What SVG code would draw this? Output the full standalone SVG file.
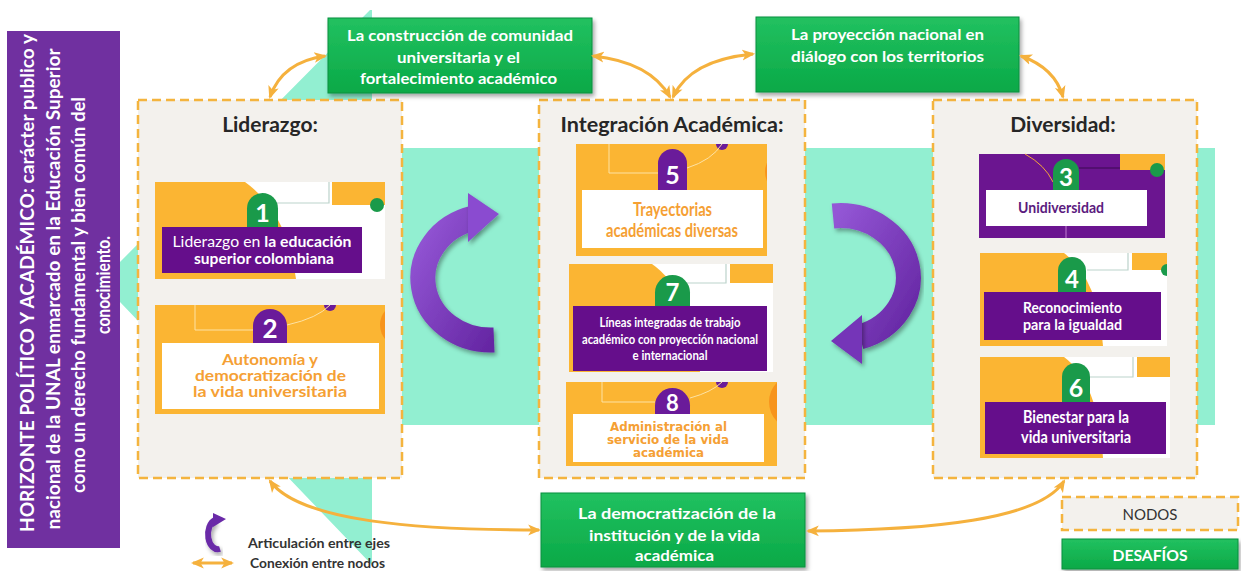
<svg xmlns="http://www.w3.org/2000/svg" width="1241" height="571" viewBox="0 0 1241 571">
<defs>
<style>
.panel{fill:#f3f1ed;stroke:#f4b43e;stroke-width:2.5;stroke-dasharray:9 5}
.gbox{fill:url(#gg);stroke:#0a8f3e;stroke-width:1;filter:url(#sh)}
.gt{font-family:Lato,"Open Sans",sans-serif;font-weight:700;fill:#fff;text-anchor:middle;font-size:16px}
.title{font-family:Lato,"Open Sans",sans-serif;font-weight:700;font-size:21px;fill:#262626;text-anchor:middle}
.or{fill:#fbb533}
.pl{fill:#650e8b}
.num{font-family:Lato,"Open Sans",sans-serif;font-weight:700;fill:#fff;text-anchor:middle}
.ot{font-family:Lato,"Open Sans",sans-serif;font-weight:700;fill:#f5a034;text-anchor:middle}
.lt{font-family:Lato,"Open Sans",sans-serif;font-weight:700;fill:#fff;text-anchor:middle}
.conn{fill:none;stroke:#f5b13d;stroke-width:3;marker-start:url(#oa);marker-end:url(#oa)}
.deco{fill:none;stroke:#fde2a4;stroke-width:1}
.outl{fill:none;stroke:#bcd3cb;stroke-width:1.2}
.gtab{fill:#1a9a4a}
.ptab{fill:#6a1b9a}
.parc{fill:none;stroke:url(#pg);stroke-width:25;filter:url(#sh)}
.leg{font-family:Lato,"Open Sans",sans-serif;font-weight:700;font-size:13px;fill:#333}
.bar{font-family:Lato,"Open Sans",sans-serif;font-weight:700;font-size:18px;fill:#fff;text-anchor:middle}
</style>
<linearGradient id="gg" x1="0" y1="0" x2="0" y2="1"><stop offset="0" stop-color="#22c160"/><stop offset="1" stop-color="#0aa947"/></linearGradient>
<linearGradient id="pg" x1="0" y1="0" x2="1" y2="1"><stop offset="0" stop-color="#9457d6"/><stop offset="1" stop-color="#6526a3"/></linearGradient>
<filter id="sh" x="-20%" y="-20%" width="140%" height="140%"><feDropShadow dx="2" dy="3" stdDeviation="2" flood-color="#000" flood-opacity="0.35"/></filter>
<marker id="oa" viewBox="0 0 12 12" refX="10" refY="6" markerWidth="13" markerHeight="13" markerUnits="userSpaceOnUse" orient="auto-start-reverse"><path d="M0,1 L12,6 L0,11 L3,6 Z" fill="#f5b13d"/></marker>
<clipPath id="c2"><rect x="155" y="305" width="230" height="109"/></clipPath>
<clipPath id="c5"><rect x="576" y="144" width="191" height="112"/></clipPath>
<clipPath id="c8"><rect x="566" y="382" width="211" height="84"/></clipPath>
</defs>
<rect width="1241" height="571" fill="#fff"/>
<polygon points="370,10 120,262 120,302 372,565 372,425 1215,425 1215,148 372,148 372,10" fill="#92efd1"/>

<g id="horizonte">
<rect x="7" y="31" width="113" height="517" fill="#7030a0"/>
<text class="bar" transform="translate(34,283) rotate(-90)" textLength="498" lengthAdjust="spacingAndGlyphs">HORIZONTE POLÍTICO Y ACADÉMICO: carácter publico y</text>
<text class="bar" transform="translate(60,289) rotate(-90)" textLength="481" lengthAdjust="spacingAndGlyphs">nacional de la UNAL enmarcado en la Educación Superior</text>
<text class="bar" transform="translate(85,295) rotate(-90)" textLength="396" lengthAdjust="spacingAndGlyphs">como un derecho fundamental y bien común del</text>
<text class="bar" transform="translate(110,285) rotate(-90)" textLength="98" lengthAdjust="spacingAndGlyphs">conocimiento.</text>
</g>

<g id="panel-liderazgo">
<rect class="panel" x="138" y="100" width="264" height="378"/>
<text class="title" x="270" y="132">Liderazgo:</text>
</g>
<g id="panel-integracion">
<rect class="panel" x="539" y="100" width="266" height="378"/>
<text class="title" x="672" y="132" textLength="223" lengthAdjust="spacingAndGlyphs">Integración Académica:</text>
</g>
<g id="panel-diversidad">
<rect class="panel" x="933" y="100" width="264" height="378"/>
<text class="title" x="1063" y="132">Diversidad:</text>
</g>

<g id="node-1">
<rect x="155" y="182" width="230" height="97" fill="#fff"/>
<path class="or" d="M155,182 H245 Q287,212 296,279 H155 Z"/>
<path class="outl" d="M252,203 H329 V182"/>
<rect class="or" x="332" y="182" width="53" height="23"/>
<circle cx="377" cy="205" r="7" fill="#1a9a4a"/>
<path class="gtab" d="M247,230 V208.5 a15.5,15.5 0 0 1 31,0 V230 Z"/>
<text class="num" x="262.5" y="222" font-size="25">1</text>
<rect class="pl" x="162" y="227" width="200" height="46"/>
<text class="lt" x="262" y="247" font-size="15.5" textLength="179" lengthAdjust="spacingAndGlyphs"><tspan font-weight="400">Liderazgo en </tspan>la educación</text>
<text class="lt" x="264" y="264" font-size="15.5" textLength="140" lengthAdjust="spacingAndGlyphs">superior colombiana</text>
</g>

<g id="node-2">
<rect class="or" x="155" y="305" width="230" height="109"/>
<g clip-path="url(#c2)"><circle cx="402" cy="325" r="22" fill="#f7941d"/><circle cx="330" cy="305" r="6" fill="#6a1b9a"/></g>
<path class="deco" d="M195,305 V330 H253 M287,325 Q318,318 330,305"/>
<path class="ptab" d="M253,343 V326 a17,17 0 0 1 34,0 V343 Z"/>
<text class="num" x="270" y="338" font-size="26">2</text>
<rect x="162" y="343" width="217" height="66" fill="#fff"/>
<text class="ot" x="270" y="365" font-size="15.5" textLength="96" lengthAdjust="spacingAndGlyphs">Autonomía y</text>
<text class="ot" x="270.5" y="381" font-size="15.5" textLength="151" lengthAdjust="spacingAndGlyphs">democratización de</text>
<text class="ot" x="270" y="397" font-size="15.5" textLength="154" lengthAdjust="spacingAndGlyphs">la vida universitaria</text>
</g>

<g id="node-5">
<rect class="or" x="576" y="144" width="191" height="112"/>
<g clip-path="url(#c5)"><circle cx="787" cy="172" r="22" fill="#f7941d"/><circle cx="722" cy="144" r="6" fill="#6a1b9a"/></g>
<path class="deco" d="M609,144 V173 H658 M687,168 Q712,160 722,144"/>
<path class="ptab" d="M658,190 V163.5 a14.5,14.5 0 0 1 29,0 V190 Z"/>
<text class="num" x="672.5" y="184" font-size="25">5</text>
<rect x="582" y="190" width="181" height="58" fill="#fff"/>
<text class="ot" x="672.5" y="216" font-size="18" font-weight="400" textLength="79" lengthAdjust="spacingAndGlyphs">Trayectorias</text>
<text class="ot" x="672" y="237" font-size="18" font-weight="400" textLength="132" lengthAdjust="spacingAndGlyphs">académicas diversas</text>
</g>

<g id="node-7">
<rect x="569" y="264" width="204" height="108" fill="#fff"/>
<path class="or" d="M569,264 H652 Q690,290 700,372 H569 Z"/>
<path class="outl" d="M660,283 H726 V264"/>
<rect class="or" x="730" y="264" width="43" height="19"/>
<path class="gtab" d="M655,306 V292.5 a17.5,17.5 0 0 1 35,0 V306 Z"/>
<text class="num" x="672.5" y="301" font-size="24">7</text>
<rect class="pl" x="573" y="306" width="194" height="65"/>
<text class="lt" x="670" y="327" font-size="13.5" font-weight="400" textLength="141" lengthAdjust="spacingAndGlyphs">Líneas integradas de trabajo</text>
<text class="lt" x="670" y="344" font-size="13.5" font-weight="400" textLength="176" lengthAdjust="spacingAndGlyphs">académico con proyección nacional</text>
<text class="lt" x="670" y="360" font-size="13.5" font-weight="400" textLength="75" lengthAdjust="spacingAndGlyphs">e internacional</text>
</g>

<g id="node-8">
<rect class="or" x="566" y="382" width="211" height="84"/>
<g clip-path="url(#c8)"><circle cx="797" cy="402" r="28" fill="#f7941d"/><circle cx="722" cy="382" r="6" fill="#6a1b9a"/></g>
<path class="deco" d="M602,382 V402 H655 M690,398 Q712,392 722,382"/>
<path class="ptab" d="M655,414 V405.5 a17.5,17.5 0 0 1 35,0 V414 Z"/>
<text class="num" x="672.5" y="411" font-size="22">8</text>
<rect x="573" y="414" width="191" height="48" fill="#fff"/>
<g font-family="'DejaVu Sans',Verdana,sans-serif" font-weight="700" font-size="12.5" fill="#f5a034" text-anchor="middle">
<text x="668.5" y="431" textLength="117" lengthAdjust="spacingAndGlyphs">Administración al</text>
<text x="668" y="444" textLength="122" lengthAdjust="spacingAndGlyphs">servicio de la vida</text>
<text x="668.5" y="457" textLength="71" lengthAdjust="spacingAndGlyphs">académica</text>
</g>
</g>

<g id="node-3">
<rect x="979" y="154" width="186" height="84" fill="#6b1590"/>
<rect class="or" x="1120" y="154" width="45" height="16"/>
<path d="M1079,168 H1120" stroke="#3a0b50" stroke-width="1" fill="none"/>
<path d="M1025,154 Q1045,165 1053,182" stroke="#f4a63a" stroke-width="1" fill="none"/>
<circle cx="1157" cy="170" r="7" fill="#1a9a4a"/>
<path class="gtab" d="M1053,190 V172 a13,13 0 0 1 26,0 V190 Z"/>
<text class="num" x="1066" y="186" font-size="24">3</text>
<rect x="986" y="190" width="161" height="36" fill="#fff"/>
<path d="M1066,226 V238" stroke="#c07ad0" stroke-width="1"/>
<text x="1061" y="213" font-family="Lato,sans-serif" font-weight="700" font-size="15" fill="#5b1a7e" text-anchor="middle" textLength="86" lengthAdjust="spacingAndGlyphs">Unidiversidad</text>
</g>

<g id="node-4">
<rect x="980" y="253" width="187" height="93" fill="#fff"/>
<path class="or" d="M980,253 H1064 Q1098,278 1103,346 H980 Z"/>
<path class="outl" d="M1087,270 H1128 V253"/>
<rect class="or" x="1132" y="253" width="35" height="17"/>
<path d="M1167,264 a6,6 0 0 0 0,12 Z" fill="#1a9a4a"/>
<path class="gtab" d="M1058,292 V271 a14,14 0 0 1 28,0 V292 Z"/>
<text class="num" x="1072" y="288" font-size="24">4</text>
<rect class="pl" x="984" y="292" width="177" height="48"/>
<text class="lt" x="1072.5" y="313" font-size="15.5" textLength="99" lengthAdjust="spacingAndGlyphs">Reconocimiento</text>
<text class="lt" x="1072.5" y="330" font-size="15.5" textLength="99" lengthAdjust="spacingAndGlyphs">para la igualdad</text>
</g>

<g id="node-6">
<rect x="980" y="357" width="190" height="101" fill="#fff"/>
<path class="or" d="M980,357 H1064 Q1098,382 1103,458 H980 Z"/>
<path class="outl" d="M1090,377 H1133 V357"/>
<rect class="or" x="1137" y="357" width="33" height="20"/>
<path class="gtab" d="M1062,402 V377 a14,14 0 0 1 28,0 V402 Z"/>
<text class="num" x="1076" y="397" font-size="25">6</text>
<rect class="pl" x="985" y="402" width="181" height="52"/>
<text class="lt" x="1076" y="423" font-size="16.5" textLength="106" lengthAdjust="spacingAndGlyphs">Bienestar para la</text>
<text class="lt" x="1076" y="443" font-size="16.5" textLength="110" lengthAdjust="spacingAndGlyphs">vida universitaria</text>
</g>

<g id="desafio-construccion">
<rect class="gbox" x="328" y="18" width="264" height="75"/>
<text class="gt" x="460" y="41" textLength="226" lengthAdjust="spacingAndGlyphs">La construcción de comunidad</text>
<text class="gt" x="458.5" y="63" textLength="123" lengthAdjust="spacingAndGlyphs">universitaria y el</text>
<text class="gt" x="458.5" y="84" textLength="197" lengthAdjust="spacingAndGlyphs">fortalecimiento académico</text>
</g>
<g id="desafio-proyeccion">
<rect class="gbox" x="756" y="17" width="263" height="75"/>
<text class="gt" x="887.5" y="40" textLength="193" lengthAdjust="spacingAndGlyphs">La proyección nacional en</text>
<text class="gt" x="887.5" y="62" textLength="193" lengthAdjust="spacingAndGlyphs">diálogo con los territorios</text>
</g>
<g id="desafio-democratizacion">
<rect class="gbox" x="541" y="493" width="264" height="74"/>
<text class="gt" x="677" y="519" textLength="198" lengthAdjust="spacingAndGlyphs">La democratización de la</text>
<text class="gt" x="674.5" y="541" textLength="171" lengthAdjust="spacingAndGlyphs">institución y de la vida</text>
<text class="gt" x="674.5" y="561" textLength="79" lengthAdjust="spacingAndGlyphs">académica</text>
</g>

<g id="articulaciones">
<path class="parc" d="M494,340 A68,62 0 0 1 474,218"/>
<polygon points="468,193 499,214 468,242" fill="#8a4cd0" filter="url(#sh)"/>
<path class="parc" d="M833,216 A68,62 0 0 1 860,337"/>
<polygon points="862,315 831,341 862,364" fill="#7534b8" filter="url(#sh)"/>
</g>

<g id="connectors">
<path class="conn" d="M270,97 Q282,62 325,56"/>
<path class="conn" d="M593,56 Q650,62 670,97"/>
<path class="conn" d="M673,97 Q690,60 753,54"/>
<path class="conn" d="M1021,56 Q1055,68 1063,97"/>
<path class="conn" d="M270,481 C300,522 420,530 539,530"/>
<path class="conn" d="M1064,481 C1040,520 930,530 808,531"/>
</g>

<g id="legend">
<path d="M220,549 A10,15 0 0 1 215,520" fill="none" stroke="#6a2aa8" stroke-width="6" filter="url(#sh)"/>
<polygon points="213,513 226,519 213,527" fill="#6a2aa8"/>
<text class="leg" x="248" y="548" textLength="142" lengthAdjust="spacingAndGlyphs">Articulación entre ejes</text>
<path class="conn" d="M193,563 H232"/>
<text class="leg" x="250" y="568" textLength="135" lengthAdjust="spacingAndGlyphs">Conexión entre nodos</text>
<rect class="panel" x="1062" y="497" width="176" height="33"/>
<text x="1150" y="520" font-family="Lato,sans-serif" font-size="15" fill="#333" text-anchor="middle" textLength="55" lengthAdjust="spacingAndGlyphs">NODOS</text>
<rect class="gbox" x="1062" y="539" width="176" height="30"/>
<text class="gt" x="1150" y="561" textLength="75" lengthAdjust="spacingAndGlyphs">DESAFÍOS</text>
</g>
</svg>
